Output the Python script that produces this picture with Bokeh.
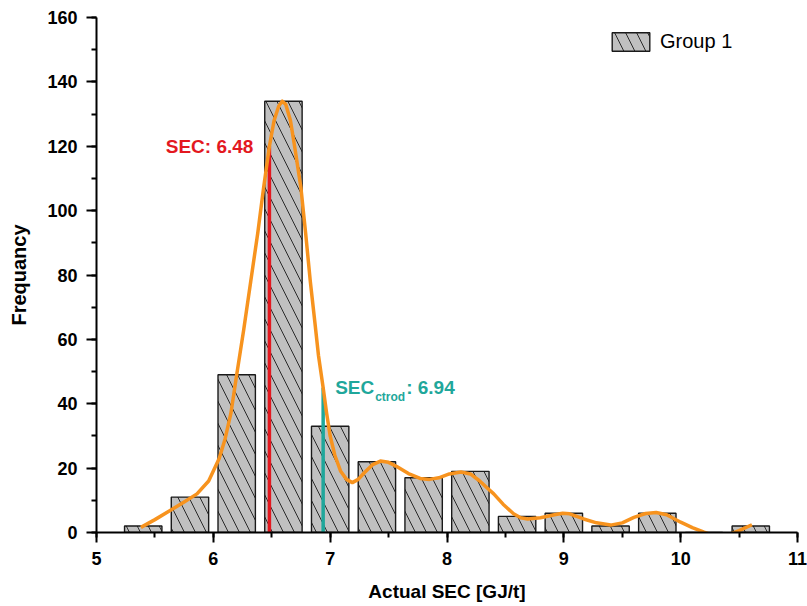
from bokeh.plotting import figure
from bokeh.models import Range1d, SingleIntervalTicker, ColumnDataSource
from bokeh.core.properties import value
from bokeh.embed import file_html
from bokeh.resources import INLINE

# ---- data ----
bin_centers = [5.4, 5.8, 6.2, 6.6, 7.0, 7.4, 7.8, 8.2, 8.6, 9.0, 9.4, 9.8, 10.2, 10.6]
counts = [2, 11, 49, 134, 33, 22, 17, 19, 5, 6, 2, 6, 0, 2]

curve_x = [5.38, 5.50, 5.63, 5.75, 5.86, 5.96, 6.05, 6.10, 6.15, 6.20, 6.26, 6.32, 6.38,
           6.43, 6.48, 6.52, 6.56, 6.59, 6.62, 6.66, 6.70, 6.75, 6.79, 6.83, 6.87, 6.90,
           6.94, 6.97, 7.00, 7.04, 7.09, 7.14, 7.19, 7.24, 7.29, 7.36, 7.43, 7.50, 7.57,
           7.67, 7.77, 7.85, 7.93, 8.02, 8.12, 8.20, 8.28, 8.34, 8.40, 8.48, 8.57, 8.63,
           8.69, 8.80, 8.92, 8.99, 9.05, 9.17, 9.28, 9.40, 9.50, 9.60, 9.70, 9.79, 9.88,
           10.00, 10.10, 10.20, 10.30, 10.40, 10.50, 10.61]
curve_y = [1.6, 4.0, 6.8, 9.5, 12, 16, 23, 29, 37, 49, 63, 78, 93,
           107, 120, 128, 132.5, 134, 133, 128, 119, 107, 93, 78, 65, 55,
           45, 37, 30, 24, 19, 16.5, 15.5, 16.5, 18.5, 21, 22.2, 21.8, 20.5,
           18.3, 16.8, 16.5, 17, 18.2, 18.8, 18.2, 16, 14, 12, 8.8, 5.8, 4.6,
           4.2, 4.6, 5.5, 6.0, 5.8, 4.2, 3.0, 2.3, 3.0, 4.7, 5.9, 6.2, 5.5,
           3.2, 1.5, 0.1, -1.2, -0.8, 0.6, 2.4]

sec_x = [6.48]
sec_top = [120]
ctrod_x = [6.94]
ctrod_top = [45]

x_ticks_interval = 1
y_ticks_interval = 20

FONT = "Liberation Sans"
ORANGE = "#f7931e"
RED = "#e3181f"
TEAL = "#1fa79b"

p = figure(width=807, height=606, output_backend="svg", toolbar_location=None,
           x_range=Range1d(5, 11), y_range=Range1d(0, 160),
           min_border_left=96, min_border_right=10, min_border_top=17, min_border_bottom=74)
p.outline_line_color = None
p.xgrid.visible = False
p.ygrid.visible = False
p.background_fill_color = "white"
p.border_fill_color = "white"

src = ColumnDataSource(dict(x=bin_centers, top=counts))
p.vbar(x="x", top="top", bottom=0, width=0.32, source=src,
       fill_color="#c0c0c0", line_color="#1a1a1a", line_width=1.4,
       hatch_pattern="left_diagonal_line", hatch_color="#2a2a2a",
       hatch_weight=1, hatch_scale=22, legend_label="Group 1")

p.segment(x0=sec_x, y0=[0], x1=sec_x, y1=sec_top, line_color=RED, line_width=3.5)
p.segment(x0=ctrod_x, y0=[0], x1=ctrod_x, y1=ctrod_top, line_color=TEAL, line_width=3.5)

p.line(curve_x, curve_y, line_color=ORANGE, line_width=3.5, line_join="round")

# annotations
p.text(x=sec_x, y=sec_top, text=["SEC: 6.48"], text_color=RED,
       text_font=value(FONT), text_font_style="bold", text_font_size="19px",
       text_align="right", text_baseline="middle", x_offset=-16)
p.text(x=ctrod_x, y=ctrod_top, text=["SEC"], text_color=TEAL,
       text_font=value(FONT), text_font_style="bold", text_font_size="19px",
       text_align="left", text_baseline="middle", x_offset=12)
p.text(x=ctrod_x, y=ctrod_top, text=["ctrod"], text_color=TEAL,
       text_font=value(FONT), text_font_style="bold", text_font_size="12px",
       text_align="left", text_baseline="middle", x_offset=52, y_offset=9)
p.text(x=ctrod_x, y=ctrod_top, text=[": 6.94"], text_color=TEAL,
       text_font=value(FONT), text_font_style="bold", text_font_size="19px",
       text_align="left", text_baseline="middle", x_offset=83)

# axes
for ax in (p.xaxis, p.yaxis):
    ax.axis_line_width = 2
    ax.axis_line_color = "black"
    ax.major_tick_line_width = 2
    ax.minor_tick_line_width = 2
    ax.major_tick_out = 10
    ax.major_tick_in = 0
    ax.minor_tick_out = 5
    ax.minor_tick_in = 0
    ax.major_label_text_font = FONT
    ax.major_label_text_font_style = "bold"
    ax.major_label_text_font_size = "18px"
    ax.major_label_text_color = "black"
    ax.major_label_standoff = 9
    ax.axis_label_text_font = FONT
    ax.axis_label_text_font_style = "bold"
    ax.axis_label_text_color = "black"

p.xaxis.axis_label_text_font_size = "19px"
p.yaxis.axis_label_text_font_size = "20px"
p.xaxis.ticker = SingleIntervalTicker(interval=x_ticks_interval, num_minor_ticks=2)
p.yaxis.ticker = SingleIntervalTicker(interval=y_ticks_interval, num_minor_ticks=2)
p.xaxis.axis_label = "Actual SEC [GJ/t]"
p.yaxis.axis_label = "Frequancy"
p.xaxis.axis_label_standoff = 13
p.yaxis.axis_label_standoff = 14

lg = p.legend[0]
lg.location = (511, 479)
lg.border_line_color = None
lg.background_fill_alpha = 0
lg.padding = 0
lg.margin = 0
lg.glyph_width = 47
lg.glyph_height = 23
lg.label_standoff = 6
lg.label_text_font = FONT
lg.label_text_font_size = "20px"
lg.label_text_color = "black"
lg.label_height = 23

open("out.html", "w").write(file_html(p, INLINE))
